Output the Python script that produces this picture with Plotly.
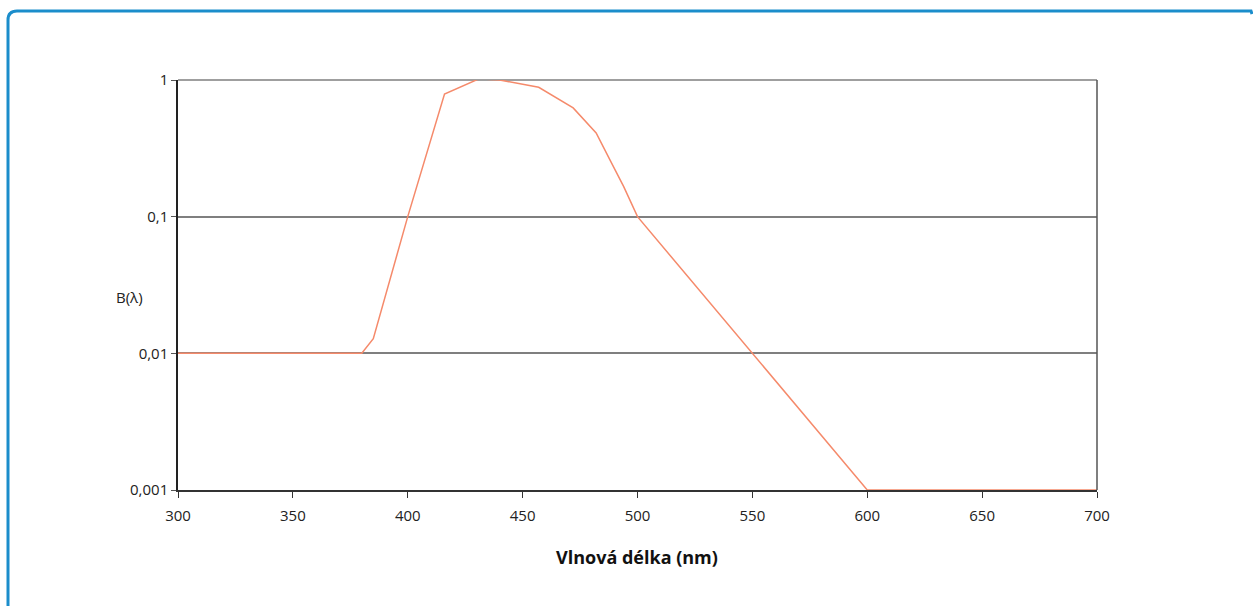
import plotly.graph_objects as go

wavelength = [300, 380, 385, 400, 416, 431, 440, 457, 472, 482, 488, 494, 500, 550, 600, 700]
b_lambda = [0.01, 0.01, 0.0128, 0.1, 0.79, 1.02, 1.0, 0.885, 0.625, 0.41, 0.26, 0.166, 0.1, 0.01, 0.001, 0.001]

x_ticks = [300, 350, 400, 450, 500, 550, 600, 650, 700]
y_tickvals = [0.001, 0.01, 0.1, 1]
y_ticktext = ["0,001", "0,01", "0,1", "1"]

W, H = 1253, 606
L, R, T, B = 178, 1097, 80, 490

def px(x):
    return (x - L) / (R - L)

def py(y):
    return (B - y) / (B - T)

font_family = "Open Sans, Noto Sans, sans-serif"

fig = go.Figure()
fig.add_trace(go.Scatter(
    x=wavelength, y=b_lambda, mode="lines",
    line=dict(color="#F58A6B", width=1.5),
    showlegend=False, hoverinfo="x+y", cliponaxis=False,
))

# top gridline at 1 and right border
fig.add_shape(type="line", xref="paper", yref="paper", x0=0, x1=1, y0=1, y1=1,
              line=dict(color="#7F7F7F", width=1.5), layer="below")
fig.add_shape(type="line", xref="paper", yref="paper", x0=1, x1=1, y0=0, y1=1,
              line=dict(color="#555555", width=1.5), layer="above")

# frame with rounded top-left corner
r = 9
x0, y0 = px(8), py(11)
rx, ry = r / (R - L), r / (B - T)
path = (f"M {x0},{py(640)} L {x0},{y0 - ry} Q {x0},{y0} {x0 + rx},{y0} "
        f"L {px(1251)},{y0} L {px(1252)},{py(14)}")
fig.add_shape(type="path", path=path, xref="paper", yref="paper",
              line=dict(color="#1B8DCB", width=3), layer="above")

fig.add_annotation(text="B(λ)", x=px(129), y=py(297), xref="paper", yref="paper",
                   xanchor="center", yanchor="middle",
                   showarrow=False, font=dict(size=15, color="#222", family=font_family))
fig.add_annotation(text="<b>Vlnová délka (nm)</b>", x=px(637), y=py(557), xref="paper", yref="paper",
                   xanchor="center", yanchor="middle",
                   showarrow=False, font=dict(size=18, color="#111", family=font_family))

fig.update_layout(
    width=W, height=H,
    margin=dict(l=L, r=W - R, t=T, b=H - B),
    paper_bgcolor="white", plot_bgcolor="white",
    font=dict(family=font_family, size=15, color="#222"),
    xaxis=dict(
        range=[300, 700], tickvals=x_ticks, ticktext=[str(v) for v in x_ticks],
        showgrid=False, zeroline=False, showline=True, linecolor="#333", linewidth=1.5,
        ticks="outside", ticklen=6, tickcolor="#333", tickwidth=1,
        tickfont=dict(size=15), ticklabelstandoff=5,
    ),
    yaxis=dict(
        type="log", range=[-3, 0], tickvals=y_tickvals, ticktext=y_ticktext,
        showgrid=True, gridcolor="#7F7F7F", gridwidth=1.5, zeroline=False,
        showline=True, linecolor="#222", linewidth=1.5,
        ticks="outside", ticklen=5, tickcolor="#555", tickwidth=1,
        tickfont=dict(size=15),
    ),
)

fig.write_html("out.html")
